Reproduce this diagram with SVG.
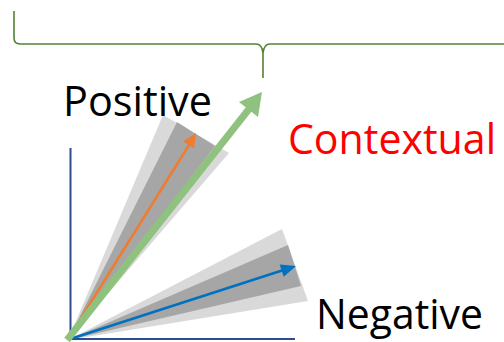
<svg xmlns="http://www.w3.org/2000/svg" width="504" height="342" viewBox="0 0 504 342">
<style>
.lbl{font-family:"Open Sans","Noto Sans","Liberation Sans",sans-serif;font-size:42px;fill:#000}
.light{fill:#d9d9d9}
.dark{fill:#a6a6a6}
.axis{stroke:#2f4d8f;stroke-width:2;fill:none}
</style>
<rect width="504" height="342" fill="#fff"/>
<g id="brace">
<path d="M14,11 L14,38 Q14,44 20,44 L256,44 Q262,44 263,53 L263,78 M263,53 Q264,44 270,44 L510,44" fill="none" stroke="#548235" stroke-width="1.6"/>
</g>
<g id="positive-fan">
<polygon class="light" points="68,340 163,115 229,153"/>
<polygon class="dark" points="68,340 177,122 215,146"/>
</g>
<g id="negative-fan">
<polygon class="light" points="68,340 282,229 308,301"/>
<polygon class="dark" points="68,340 288,245 301,286"/>
</g>
<g id="axes">
<path class="axis" d="M70.5,148 L70.5,340 M69.5,339 L295,339"/>
</g>
<g id="connectors">
<g id="orange-arrow">
<line x1="68" y1="339" x2="189" y2="145" stroke="#ed7d31" stroke-width="2.6"/>
<polygon points="196,133 183,141.5 194,148.3" fill="#ed7d31"/>
</g>
<g id="blue-arrow">
<line x1="70" y1="339" x2="282" y2="270.5" stroke="#0070c0" stroke-width="2.6"/>
<polygon points="296,266 279.7,264.4 283.7,276.8" fill="#0070c0"/>
</g>
<g id="green-arrow">
<line x1="67" y1="340" x2="249" y2="109" stroke="#8fc27f" stroke-width="7"/>
<polygon points="262,92 239,102 258,117" fill="#8fc27f"/>
</g>
</g>
<g id="label-positive"><text class="lbl" x="63" y="116" textLength="149" lengthAdjust="spacingAndGlyphs">Positive</text></g>
<g id="label-contextual"><text class="lbl" x="288" y="154" textLength="208" lengthAdjust="spacingAndGlyphs" style="fill:#ff0000">Contextual</text></g>
<g id="label-negative"><text class="lbl" x="316" y="329" textLength="167" lengthAdjust="spacingAndGlyphs">Negative</text></g>
</svg>
